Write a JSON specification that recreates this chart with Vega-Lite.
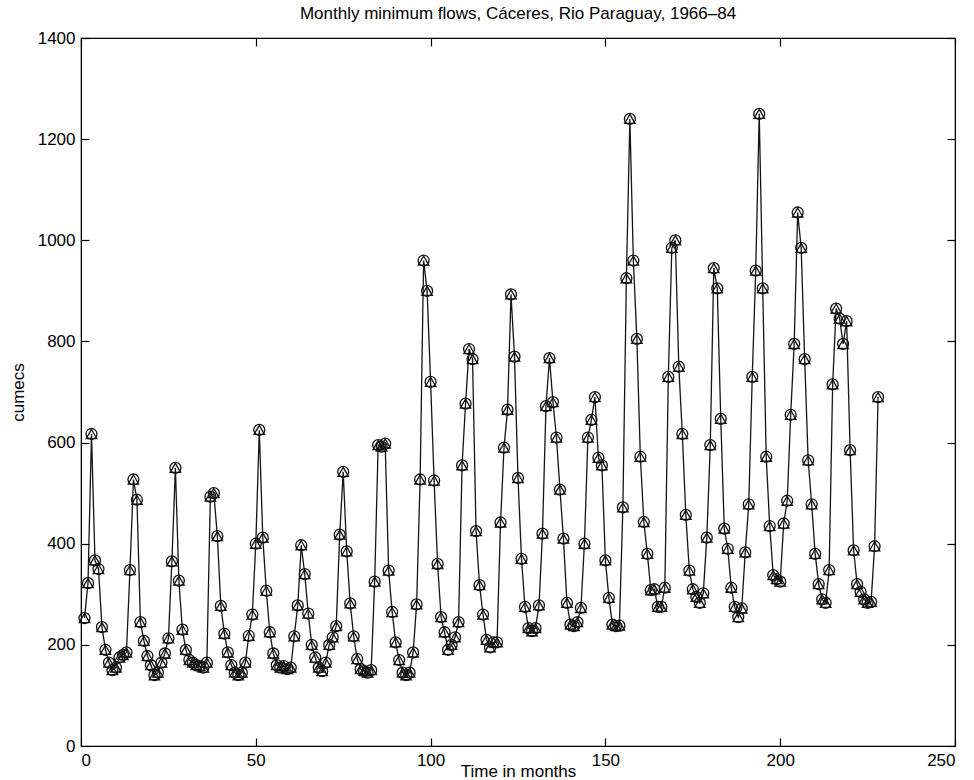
{
  "$schema": "https://vega.github.io/schema/vega-lite/v6.json",
  "autosize": {"type": "none"},
  "padding": {"left": 81, "top": 38, "right": 19, "bottom": 34},
  "width": 874,
  "height": 708,
  "background": "white",
  "title": {"text": "Monthly minimum flows, Cáceres, Rio Paraguay, 1966–84", "font": "Liberation Sans", "fontSize": 17, "fontWeight": "normal", "color": "black", "offset": 6, "anchor": "middle"},
  "config": {
    "view": {"stroke": "black", "strokeWidth": 1.2},
    "axis": {"labelFont": "Liberation Sans", "titleFont": "Liberation Sans", "labelFontSize": 17, "titleFontSize": 17, "titleFontWeight": "normal", "labelColor": "black", "titleColor": "black", "grid": false, "domainColor": "black", "tickColor": "black", "tickSize": -8, "tickWidth": 1.2, "domain": true, "format": "d"}
  },
  "data": {"values": [
    {"m":1,"v":253},{"m":2,"v":322},{"m":3,"v":617},{"m":4,"v":367},{"m":5,"v":350},{"m":6,"v":235},{"m":7,"v":190},{"m":8,"v":165},{"m":9,"v":150},{"m":10,"v":155},{"m":11,"v":175},{"m":12,"v":180},
    {"m":13,"v":185},{"m":14,"v":348},{"m":15,"v":527},{"m":16,"v":487},{"m":17,"v":245},{"m":18,"v":208},{"m":19,"v":178},{"m":20,"v":160},{"m":21,"v":140},{"m":22,"v":145},{"m":23,"v":165},{"m":24,"v":183},
    {"m":25,"v":213},{"m":26,"v":365},{"m":27,"v":550},{"m":28,"v":327},{"m":29,"v":230},{"m":30,"v":190},{"m":31,"v":170},{"m":32,"v":165},{"m":33,"v":160},{"m":34,"v":158},{"m":35,"v":155},{"m":36,"v":165},
    {"m":37,"v":493},{"m":38,"v":500},{"m":39,"v":415},{"m":40,"v":277},{"m":41,"v":222},{"m":42,"v":185},{"m":43,"v":160},{"m":44,"v":145},{"m":45,"v":140},{"m":46,"v":145},{"m":47,"v":165},{"m":48,"v":218},
    {"m":49,"v":260},{"m":50,"v":400},{"m":51,"v":625},{"m":52,"v":412},{"m":53,"v":307},{"m":54,"v":225},{"m":55,"v":183},{"m":56,"v":160},{"m":57,"v":155},{"m":58,"v":158},{"m":59,"v":152},{"m":60,"v":155},
    {"m":61,"v":217},{"m":62,"v":278},{"m":63,"v":397},{"m":64,"v":340},{"m":65,"v":262},{"m":66,"v":200},{"m":67,"v":175},{"m":68,"v":155},{"m":69,"v":148},{"m":70,"v":165},{"m":71,"v":200},{"m":72,"v":215},
    {"m":73,"v":237},{"m":74,"v":418},{"m":75,"v":542},{"m":76,"v":385},{"m":77,"v":282},{"m":78,"v":217},{"m":79,"v":172},{"m":80,"v":152},{"m":81,"v":148},{"m":82,"v":145},{"m":83,"v":150},{"m":84,"v":325},
    {"m":85,"v":595},{"m":86,"v":592},{"m":87,"v":598},{"m":88,"v":347},{"m":89,"v":265},{"m":90,"v":205},{"m":91,"v":170},{"m":92,"v":145},{"m":93,"v":140},{"m":94,"v":145},{"m":95,"v":185},{"m":96,"v":280},
    {"m":97,"v":527},{"m":98,"v":960},{"m":99,"v":900},{"m":100,"v":720},{"m":101,"v":525},{"m":102,"v":360},{"m":103,"v":255},{"m":104,"v":225},{"m":105,"v":190},{"m":106,"v":200},{"m":107,"v":215},{"m":108,"v":245},
    {"m":109,"v":555},{"m":110,"v":677},{"m":111,"v":785},{"m":112,"v":765},{"m":113,"v":425},{"m":114,"v":318},{"m":115,"v":260},{"m":116,"v":210},{"m":117,"v":195},{"m":118,"v":205},{"m":119,"v":205},{"m":120,"v":442},
    {"m":121,"v":590},{"m":122,"v":665},{"m":123,"v":893},{"m":124,"v":770},{"m":125,"v":530},{"m":126,"v":370},{"m":127,"v":275},{"m":128,"v":233},{"m":129,"v":227},{"m":130,"v":233},{"m":131,"v":278},{"m":132,"v":420},
    {"m":133,"v":672},{"m":134,"v":767},{"m":135,"v":680},{"m":136,"v":610},{"m":137,"v":507},{"m":138,"v":410},{"m":139,"v":283},{"m":140,"v":240},{"m":141,"v":237},{"m":142,"v":245},{"m":143,"v":273},{"m":144,"v":400},
    {"m":145,"v":610},{"m":146,"v":645},{"m":147,"v":690},{"m":148,"v":570},{"m":149,"v":555},{"m":150,"v":367},{"m":151,"v":293},{"m":152,"v":240},{"m":153,"v":237},{"m":154,"v":238},{"m":155,"v":472},{"m":156,"v":925},
    {"m":157,"v":1240},{"m":158,"v":960},{"m":159,"v":805},{"m":160,"v":572},{"m":161,"v":443},{"m":162,"v":380},{"m":163,"v":308},{"m":164,"v":310},{"m":165,"v":275},{"m":166,"v":275},{"m":167,"v":313},{"m":168,"v":730},
    {"m":169,"v":985},{"m":170,"v":1000},{"m":171,"v":750},{"m":172,"v":617},{"m":173,"v":457},{"m":174,"v":347},{"m":175,"v":310},{"m":176,"v":295},{"m":177,"v":283},{"m":178,"v":302},{"m":179,"v":412},{"m":180,"v":595},
    {"m":181,"v":945},{"m":182,"v":905},{"m":183,"v":647},{"m":184,"v":430},{"m":185,"v":390},{"m":186,"v":313},{"m":187,"v":275},{"m":188,"v":255},{"m":189,"v":272},{"m":190,"v":383},{"m":191,"v":478},{"m":192,"v":730},
    {"m":193,"v":940},{"m":194,"v":1250},{"m":195,"v":905},{"m":196,"v":572},{"m":197,"v":435},{"m":198,"v":338},{"m":199,"v":330},{"m":200,"v":325},{"m":201,"v":440},{"m":202,"v":485},{"m":203,"v":655},{"m":204,"v":795},
    {"m":205,"v":1055},{"m":206,"v":985},{"m":207,"v":765},{"m":208,"v":565},{"m":209,"v":478},{"m":210,"v":380},{"m":211,"v":320},{"m":212,"v":290},{"m":213,"v":283},{"m":214,"v":348},{"m":215,"v":715},{"m":216,"v":865},
    {"m":217,"v":845},{"m":218,"v":795},{"m":219,"v":840},{"m":220,"v":585},{"m":221,"v":387},{"m":222,"v":320},{"m":223,"v":305},{"m":224,"v":290},{"m":225,"v":283},{"m":226,"v":285},{"m":227,"v":395},{"m":228,"v":690}
  ]},
  "layer": [
    {
      "mark": {"type": "line", "color": "#141414", "strokeWidth": 1.3},
      "encoding": {
        "x": {"field": "m", "type": "quantitative", "scale": {"domain": [0, 250], "nice": false}, "axis": {"orient": "bottom", "values": [0, 50, 100, 150, 200, 250], "title": "Time in months", "labelPadding": 14, "titleBaseline": "alphabetic", "titleY": 30}},
        "y": {"field": "v", "type": "quantitative", "scale": {"domain": [0, 1400], "nice": false}, "axis": {"orient": "left", "values": [0, 200, 400, 600, 800, 1000, 1200, 1400], "title": "cumecs", "labelPadding": 14, "titleBaseline": "middle", "titleX": -63}}
      }
    },
    {
      "mark": {"type": "point", "shape": "circle", "filled": false, "stroke": "#141414", "strokeWidth": 1.3, "size": 120, "opacity": 1},
      "encoding": {
        "x": {"field": "m", "type": "quantitative", "axis": {"orient": "top", "values": [0, 50, 100, 150, 200, 250], "labels": false, "title": null}},
        "y": {"field": "v", "type": "quantitative", "axis": {"orient": "right", "values": [0, 200, 400, 600, 800, 1000, 1200, 1400], "labels": false, "title": null}}
      }
    },
    {
      "mark": {"type": "point", "shape": "triangle-up", "filled": false, "stroke": "#141414", "strokeWidth": 1.3, "size": 110, "opacity": 1},
      "encoding": {
        "x": {"field": "m", "type": "quantitative", "axis": null},
        "y": {"field": "v", "type": "quantitative", "axis": null}
      }
    }
  ],
  "resolve": {"axis": {"x": "independent", "y": "independent"}}
}
